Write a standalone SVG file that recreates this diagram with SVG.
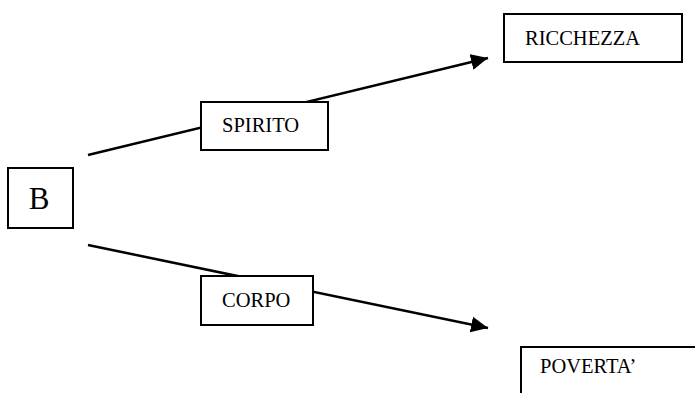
<svg xmlns="http://www.w3.org/2000/svg" width="695" height="393" viewBox="0 0 695 393">
<defs>
<style>
.box{fill:#fff;stroke:#000;stroke-width:2}
.lbl{font-family:"Liberation Serif","Times New Roman",serif;font-size:20.5px;fill:#000}
.big{font-family:"Liberation Serif","Times New Roman",serif;font-size:31px;fill:#000}
.conn{stroke:#000;stroke-width:2.5;fill:none}
</style>
<marker id="arr" markerUnits="userSpaceOnUse" markerWidth="18" markerHeight="16" refX="17" refY="8" orient="auto">
<path d="M0,0 L17,8 L0,16 Z" fill="#000"/>
</marker>
</defs>
<rect width="695" height="393" fill="#fff"/>
<g id="connectors">
<line class="conn" x1="88" y1="155" x2="488" y2="58" marker-end="url(#arr)"/>
<line class="conn" x1="88" y1="245" x2="488" y2="328" marker-end="url(#arr)"/>
</g>
<g id="node-B">
<rect class="box" x="8" y="168" width="65" height="60"/>
<text class="big" x="39" y="209" text-anchor="middle">B</text>
</g>
<g id="node-ricchezza">
<rect class="box" x="504" y="14" width="178" height="48"/>
<text class="lbl" x="525" y="45">RICCHEZZA</text>
</g>
<g id="node-spirito">
<rect class="box" x="201" y="102" width="127" height="48"/>
<text class="lbl" x="222" y="132">SPIRITO</text>
</g>
<g id="node-corpo">
<rect class="box" x="201" y="276" width="112" height="49"/>
<text class="lbl" x="222" y="307">CORPO</text>
</g>
<g id="node-poverta">
<rect class="box" x="521" y="347" width="200" height="60"/>
<text class="lbl" x="540" y="373">POVERTA’</text>
</g>
</svg>
